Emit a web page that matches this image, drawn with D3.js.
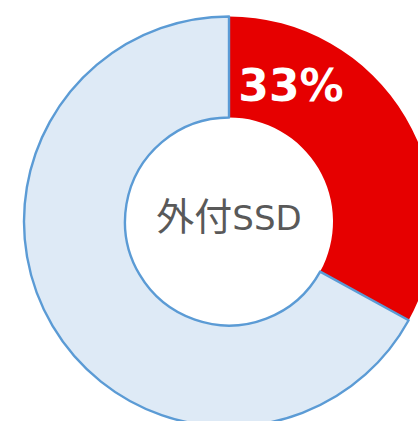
<!DOCTYPE html>
<html><head><meta charset="utf-8">
<script src="https://cdn.jsdelivr.net/npm/d3@7"></script>
<style>html,body{margin:0;padding:0;background:#fff;}</style>
</head><body>
<script>
const categories = ["外付SSD", "その他"];
const values = [33, 67];
const centerLabel = ["外付", "SSD"];
const valueLabel = "33%";

const W = 418, H = 421;
const cx = 229, cy = 221.5, rOuter = 205, rInner = 104;
const colors = d3.scaleOrdinal().domain(categories).range(["#e60000", "#deeaf6"]);

const svg = d3.select("body").append("svg").attr("width", W).attr("height", H);
const g = svg.append("g").attr("transform", `translate(${cx},${cy})`);

const pie = d3.pie().sort(null).value(d => d.v);
const arcs = pie(categories.map((c, i) => ({c, v: values[i]})));
const arc = d3.arc().innerRadius(rInner).outerRadius(rOuter);

g.selectAll("path").data(arcs).join("path")
  .attr("d", arc)
  .attr("fill", d => colors(d.data.c))
  .attr("stroke", (d, i) => i === 0 ? "none" : "#5b9bd5")
  .attr("stroke-width", 2.4)
  .attr("stroke-linejoin", "round");

g.append("text")
  .attr("x", 62).attr("y", -121)
  .attr("text-anchor", "middle")
  .attr("font-family", "DejaVu Sans")
  .attr("font-weight", "bold")
  .attr("font-size", 44)
  .attr("fill", "#fff")
  .text(valueLabel);

const t = g.append("text")
  .attr("x", 0).attr("y", 8)
  .attr("text-anchor", "middle")
  .attr("fill", "#595959");
t.append("tspan").attr("font-family", "Noto Sans CJK JP").attr("font-size", 38).text(centerLabel[0]);
t.append("tspan").attr("font-family", "DejaVu Sans").attr("font-size", 34).text(centerLabel[1]);
</script>
</body></html>
